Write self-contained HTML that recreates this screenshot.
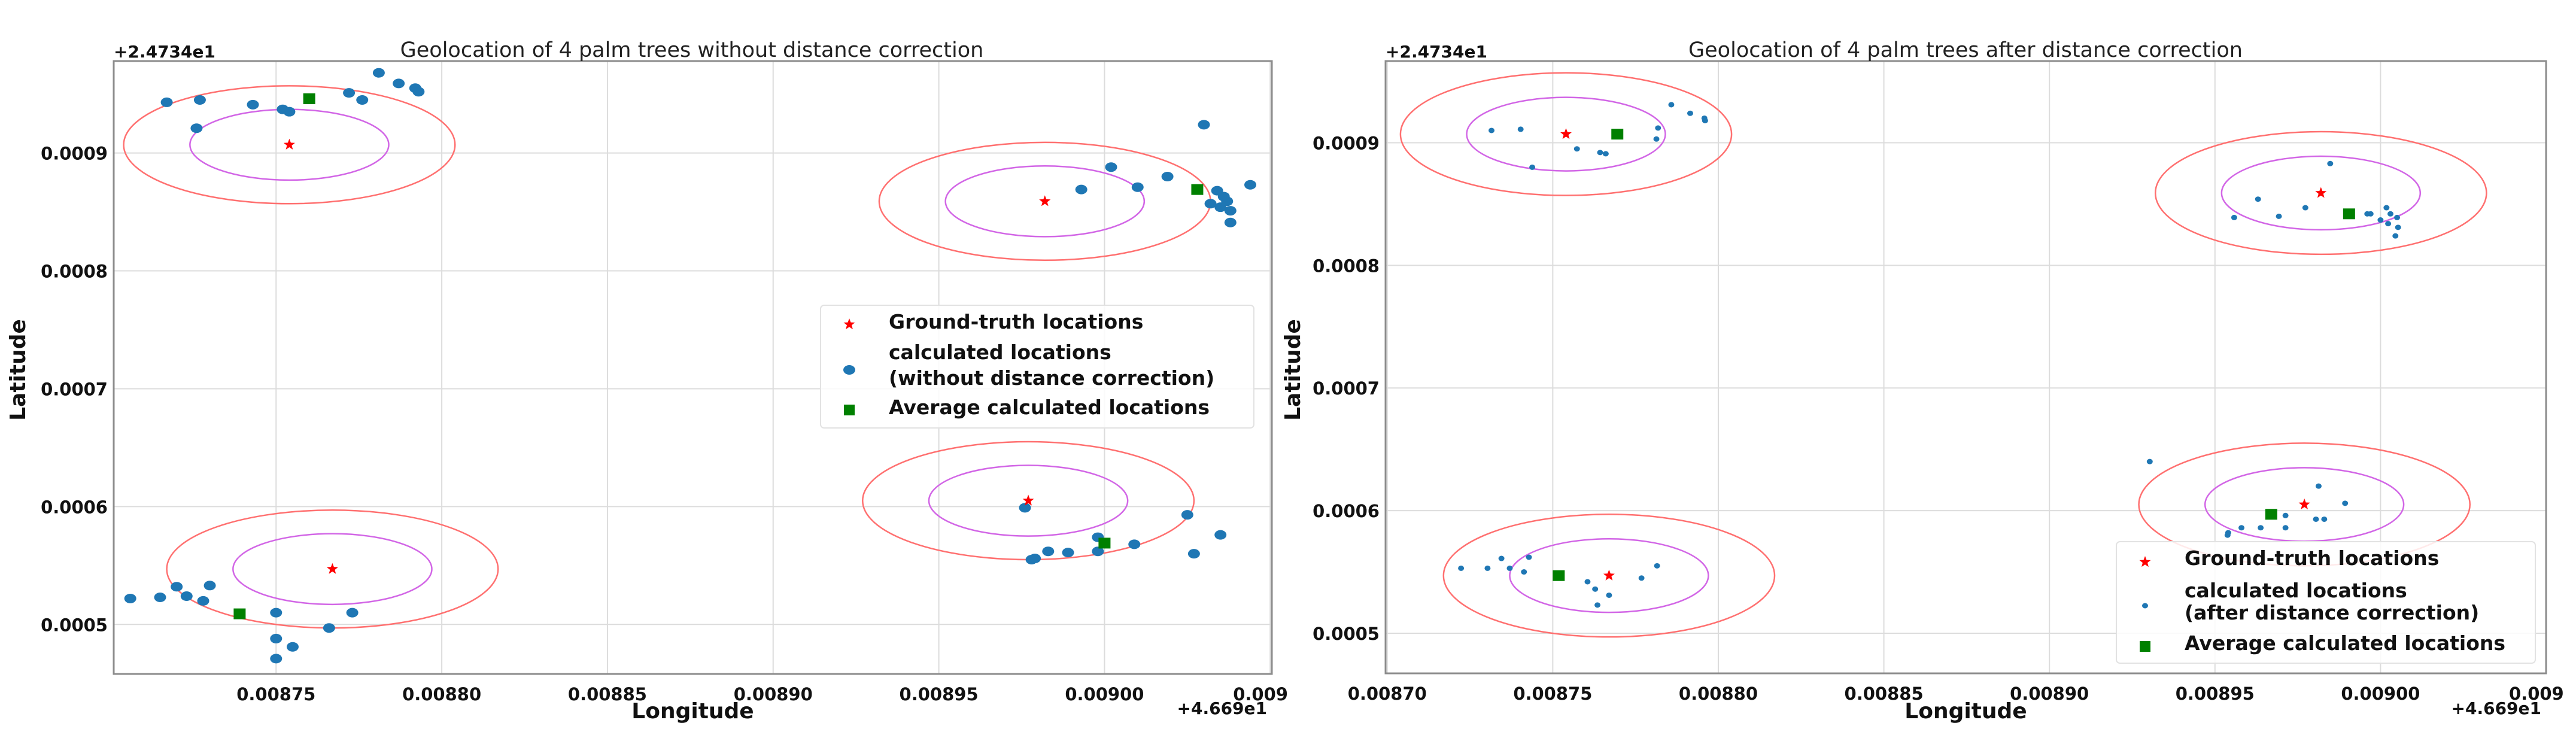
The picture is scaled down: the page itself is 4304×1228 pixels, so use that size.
<!DOCTYPE html>
<html><head><meta charset="utf-8">
<style>
html,body{margin:0;padding:0;background:#fff;}
svg{display:block;font-family:"DejaVu Sans","Liberation Sans",sans-serif;}
</style></head>
<body>
<svg id="fig" width="4304" height="1228" viewBox="0 0 4304 1228" xmlns="http://www.w3.org/2000/svg"></svg>
<script>
// ---------- data ----------
const gtLon = [0.008754, 0.008982, 0.008767, 0.008977];
const gtLat = [0.000907, 0.000859, 0.000547, 0.000605];
const innerR = 0.00003;
const outerR = 0.00005;

const rawLon = [0.008717,0.008727,0.008726,0.008743,0.008752,0.008754,0.008772,0.008776,0.008781,0.008787,0.008792,0.008793,
 0.009030,0.009002,0.008993,0.009010,0.009019,0.009034,0.009032,0.009035,0.009037,0.009038,0.009038,0.009044,0.009036,
 0.008706,0.008715,0.008720,0.008723,0.008728,0.008730,0.008750,0.008750,0.008755,0.008750,0.008766,0.008773,
 0.008976,0.009025,0.009035,0.008998,0.008998,0.008983,0.008989,0.008978,0.008979,0.009009,0.009027];
const rawLat = [0.000943,0.000945,0.000921,0.000941,0.000937,0.000935,0.000951,0.000945,0.000968,0.000959,0.000955,0.000952,
 0.000924,0.000888,0.000869,0.000871,0.000880,0.000868,0.000857,0.000854,0.000859,0.000851,0.000841,0.000873,0.000863,
 0.000522,0.000523,0.000532,0.000524,0.000520,0.000533,0.000510,0.000488,0.000481,0.000471,0.000497,0.000510,
 0.000599,0.000593,0.000576,0.000574,0.000562,0.000562,0.000561,0.000555,0.000556,0.000568,0.000560];
const rawAvgLon = [0.008760, 0.009028, 0.008739, 0.009000];
const rawAvgLat = [0.000946, 0.000869, 0.000509, 0.000569];

const corLon = [0.0087315,0.0087403,0.0087438,0.0087573,0.0087643,0.008766,0.0087813,0.0087818,0.0087858,0.0087915,0.0087958,0.008796,
 0.0089848,0.008963,0.0089558,0.0089693,0.0089773,0.008996,0.008997,0.0090018,0.009003,0.009,0.0090023,0.009005,0.0090053,0.0090045,
 0.0087223,0.0087303,0.0087345,0.008737,0.0087413,0.0087428,0.0087605,0.0087628,0.0087635,0.008767,0.0087768,0.0087815,
 0.0089303,0.0089813,0.0089893,0.0089713,0.0089713,0.0089638,0.008958,0.008954,0.0089538,0.0089805,0.008983];
const corLat = [0.000910,0.000911,0.000880,0.000895,0.000892,0.000891,0.000903,0.000912,0.000931,0.000924,0.000920,0.000918,
 0.000883,0.000854,0.000839,0.000840,0.000847,0.000842,0.000842,0.000847,0.000842,0.000837,0.000834,0.000839,0.000831,0.000824,
 0.000553,0.000553,0.000561,0.000553,0.000550,0.000562,0.000542,0.000536,0.000523,0.000531,0.000545,0.000555,
 0.000640,0.000620,0.000606,0.000596,0.000586,0.000586,0.000586,0.000582,0.000580,0.000593,0.000593];
const corAvgLon = [0.0087695, 0.0089905, 0.0087518, 0.008967];
const corAvgLat = [0.000907, 0.000842, 0.000547, 0.000597];

const xTicks = [0.00870, 0.00875, 0.00880, 0.00885, 0.00890, 0.00895, 0.00900, 0.00905];
const xTickLabels = ["0.00870","0.00875","0.00880","0.00885","0.00890","0.00895","0.00900","0.009"];
const yTicks = [0.0005, 0.0006, 0.0007, 0.0008, 0.0009];
const yTickLabels = ["0.0005","0.0006","0.0007","0.0008","0.0009"];

// ---------- drawing ----------
const NS = "http://www.w3.org/2000/svg";
const svg = document.getElementById('fig');
function mk(tag, attrs, parent, text){
  const e = document.createElementNS(NS, tag);
  for (const k in attrs) e.setAttribute(k, attrs[k]);
  if (text !== undefined) e.textContent = text;
  (parent || svg).appendChild(e);
  return e;
}
function starPath(cx, cy, r){
  let d = "";
  for (let i=0;i<10;i++){
    const a = -Math.PI/2 + i*Math.PI/5;
    const rr = i%2===0 ? r : r*0.42;
    d += (i===0?"M":"L") + (cx+rr*Math.cos(a)).toFixed(1) + " " + (cy+rr*Math.sin(a)).toFixed(1);
  }
  return d + "Z";
}
let clipId = 0;

function drawPanel(cfg){
  const g = mk('g', {});
  
  
  const X = v => cfg.x0 + (v - cfg.xmin)/(cfg.xmax - cfg.xmin)*(cfg.x1 - cfg.x0);
  const Y = v => cfg.y1 - (v - cfg.ymin)/(cfg.ymax - cfg.ymin)*(cfg.y1 - cfg.y0);

  const cid = 'clip' + (clipId++);
  const defs = mk('defs', {}, g);
  const cp = mk('clipPath', {id:cid}, defs);
  mk('rect', {x:cfg.x0, y:cfg.y0, width:cfg.x1-cfg.x0, height:cfg.y1-cfg.y0}, cp);

  // grid
  xTicks.forEach((t,i) => {
    if (t < cfg.xmin - 1e-9 || t > cfg.xmax + 1e-9) return;
    const l = mk('line', {x1:X(t), x2:X(t), y1:cfg.y0, y2:cfg.y1, stroke:'#dcdcdc', 'stroke-width':2}, g);
    
    
    const last = i === xTicks.length-1;
    const tl = mk('text', {x:last ? X(t)-62 : X(t), y:cfg.y1+44, 'text-anchor':last?'start':'middle', 'font-size':29, 'font-weight':'bold', fill:'#111'}, g, xTickLabels[i]);
    
    
  });
  yTicks.forEach((t,i) => {
    const l = mk('line', {x1:cfg.x0, x2:cfg.x1, y1:Y(t), y2:Y(t), stroke:'#dcdcdc', 'stroke-width':2}, g);
    
    
    const tl = mk('text', {x:cfg.x0-10, y:Y(t)+11, 'text-anchor':'end', 'font-size':29, 'font-weight':'bold', fill:'#111'}, g, yTickLabels[i]);
    
    
  });

  const pg = mk('g', {'clip-path':`url(#${cid})`}, g);
  
  
  // circles
  for (let i=0;i<gtLon.length;i++){
    const cx = X(gtLon[i]), cy = Y(gtLat[i]);
    const rxO = X(gtLon[i]+outerR)-cx, ryO = cy - Y(gtLat[i]+outerR);
    const rxI = X(gtLon[i]+innerR)-cx, ryI = cy - Y(gtLat[i]+innerR);
    const eo = mk('ellipse', {cx, cy, rx:rxO, ry:ryO, fill:'none', stroke:'#ff7070', 'stroke-width':2.5}, pg);
    
    
    const ei = mk('ellipse', {cx, cy, rx:rxI, ry:ryI, fill:'none', stroke:'#d266e6', 'stroke-width':2.5}, pg);
    
    
  }
  for (let i=0;i<cfg.lon.length;i++){
    const p = mk('ellipse', {cx:X(cfg.lon[i]), cy:Y(cfg.lat[i]), rx:cfg.dotRx, ry:cfg.dotRy, fill:'#1f77b4'}, pg);
    
    
  }
  for (let i=0;i<cfg.avgLon.length;i++){
    const s = mk('rect', {x:X(cfg.avgLon[i])-10, y:Y(cfg.avgLat[i])-9, width:20, height:18, fill:'#008000'}, pg);
    
    
  }
  for (let i=0;i<gtLon.length;i++){
    const st = mk('path', {d:starPath(X(gtLon[i]), Y(gtLat[i]), 10), fill:'#ff0000'}, pg);
    
    
  }
  const fr = mk('rect', {x:cfg.x0, y:cfg.y0, width:cfg.x1-cfg.x0, height:cfg.y1-cfg.y0, fill:'none', stroke:'#8c8c8c', 'stroke-width':3}, g);
  
  

  const ti = mk('text', {x:cfg.titleX, y:95, 'text-anchor':'middle', 'font-size':35, fill:'#222'}, g, cfg.title);
  
  
  const off = mk('text', {x:cfg.x0, y:96, 'font-size':28, 'font-weight':'bold', fill:'#111'}, g, '+2.4734e1');
  
  
  const xo = mk('text', {x:cfg.x1-8, y:1193, 'text-anchor':'end', 'font-size':28, 'font-weight':'bold', fill:'#111'}, g, '+4.669e1');
  
  
  const xl = mk('text', {x:(cfg.x0+cfg.x1)/2, y:1200, 'text-anchor':'middle', 'font-size':36, 'font-weight':'bold', fill:'#111'}, g, 'Longitude');
  
  
  const yl = mk('text', {x:0, y:0, 'text-anchor':'middle', 'font-size':36, 'font-weight':'bold', fill:'#111', transform:`translate(${cfg.ylabX},618) rotate(-90)`}, g, 'Latitude');
  
  

  const L = cfg.leg;
  const lg = mk('g', {}, g);
  
  
  mk('rect', {x:L.x, y:L.y, width:L.w, height:L.h, rx:6, fill:'#ffffff', 'fill-opacity':0.85, stroke:'#e2e2e2', 'stroke-width':2}, lg);
  const mx = L.x + 48, tx = L.x + 114;
  const s1 = mk('path', {d:starPath(mx, L.y+L.r[0], 10), fill:'#ff0000'}, lg);
  
  
  const t1 = mk('text', {x:tx, y:L.y+L.t[0], 'font-size':33, 'font-weight':'bold', fill:'#111'}, lg, 'Ground-truth locations');
  
  
  const s2 = mk('ellipse', {cx:mx, cy:L.y+L.r[1], rx:cfg.dotRx, ry:cfg.dotRy, fill:'#1f77b4'}, lg);
  
  
  const t2 = mk('text', {x:tx, y:L.y+L.t[1], 'font-size':33, 'font-weight':'bold', fill:'#111'}, lg, 'calculated locations');
  
  
  const t3 = mk('text', {x:tx, y:L.y+L.t[2], 'font-size':33, 'font-weight':'bold', fill:'#111'}, lg, cfg.legSub);
  
  
  const s3 = mk('rect', {x:mx-9, y:L.y+L.r[2]-9, width:18, height:18, fill:'#008000'}, lg);
  
  
  const t4 = mk('text', {x:tx, y:L.y+L.t[3], 'font-size':33, 'font-weight':'bold', fill:'#111'}, lg, 'Average calculated locations');
  
  
}

drawPanel({
  name:'left-panel-without-correction',
  x0:190, x1:2125, y0:102, y1:1126,
  xmin:0.008701, xmax:0.0090505, ymin:0.000458, ymax:0.000978,
  lon:rawLon, lat:rawLat, avgLon:rawAvgLon, avgLat:rawAvgLat,
  dotRx:10, dotRy:8,
  title:'Geolocation of 4 palm trees without distance correction', titleX:1156,
  ylabX:42,
  legSub:'(without distance correction)',
  leg:{x:1371, y:510, w:724, h:205, r:[32,108,175], t:[39,90,133,182]}
});
drawPanel({
  name:'right-panel-after-correction',
  x0:2315, x1:4254, y0:102, y1:1125,
  xmin:0.0086995, xmax:0.00905, ymin:0.0004673, ymax:0.0009666,
  lon:corLon, lat:corLat, avgLon:corAvgLon, avgLat:corAvgLat,
  dotRx:5, dotRy:4.5,
  title:'Geolocation of 4 palm trees after distance correction', titleX:3284,
  ylabX:2172,
  legSub:'(after distance correction)',
  leg:{x:3536, y:905, w:700, h:203, r:[34,107,175], t:[39,93,130,181]}
});
</script>
</body></html>
